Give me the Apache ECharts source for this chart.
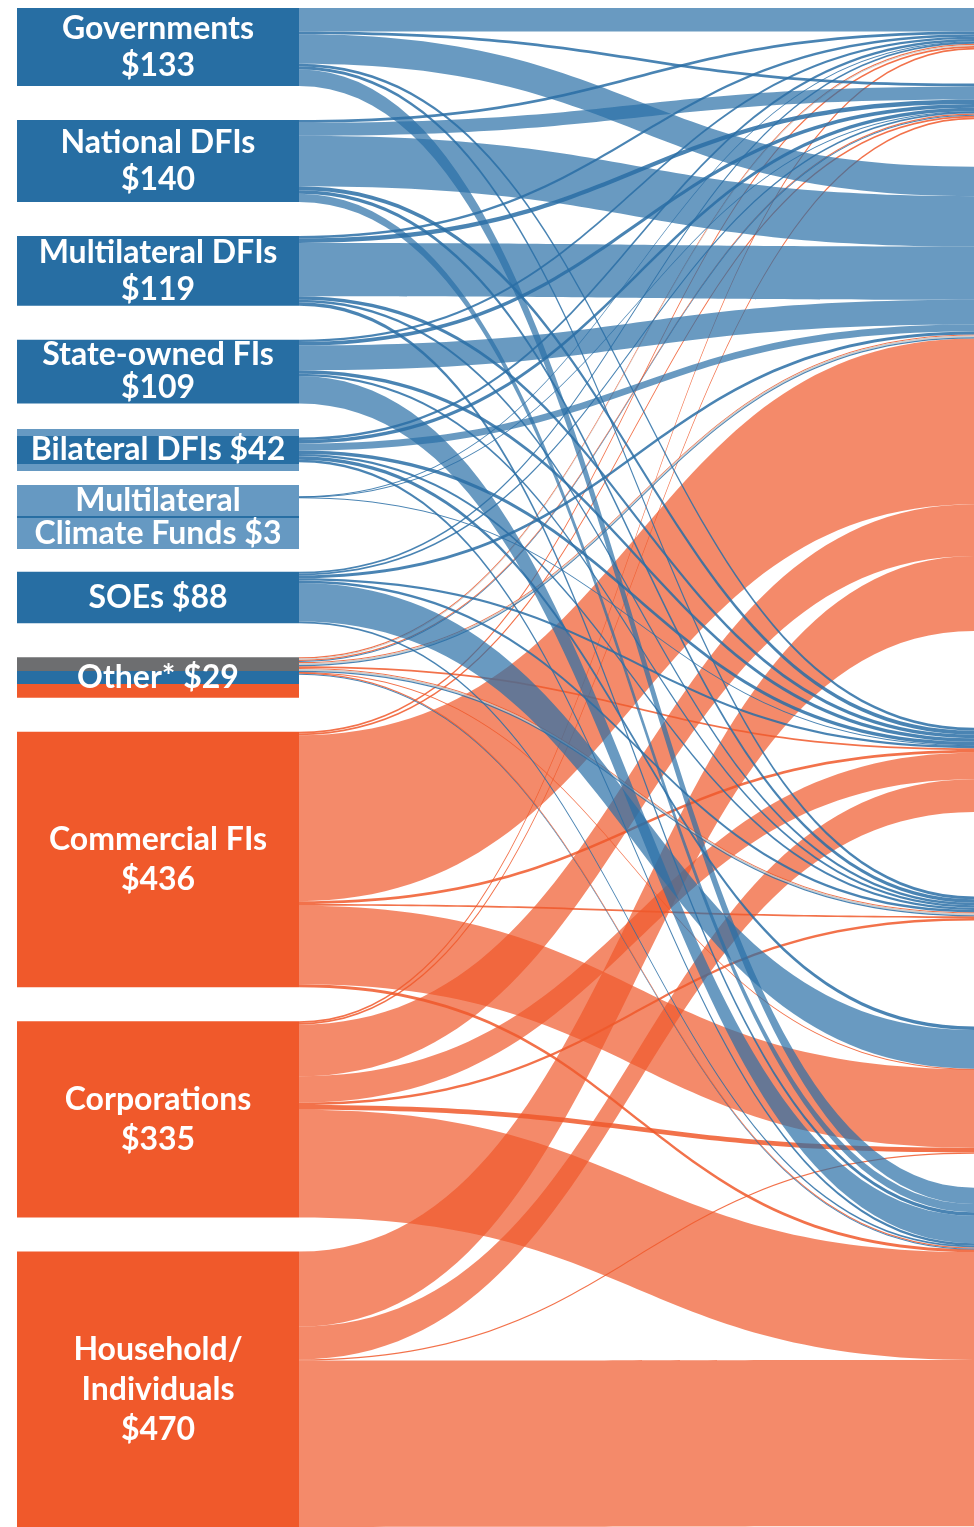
<!DOCTYPE html>
<html>
<head>
<meta charset="utf-8">
<title>Climate finance by source</title>
<script src="https://cdn.jsdelivr.net/npm/echarts@6.0.0/dist/echarts.min.js"></script>
<style>
  html, body { margin: 0; padding: 0; background: #fff; }
  #main { width: 974px; height: 1527px; }
</style>
</head>
<body>
<div id="main"></div>
<script>
// sources on the left, $bn
const sources = ['Governments', 'National DFIs', 'Multilateral DFIs', 'State-owned FIs', 'Bilateral DFIs',
  'Multilateral Climate Funds', 'SOEs', 'Other*', 'Commercial FIs', 'Corporations', 'Household/Individuals']
const sourceTotals = [133, 140, 119, 109, 42, 3, 88, 29, 436, 335, 470]
const sourceLabels = ['Governments\n$133', 'National DFIs\n$140', 'Multilateral DFIs\n$119', 'State-owned FIs\n$109',
  'Bilateral DFIs $42', 'Multilateral\nClimate Funds $3', 'SOEs $88', 'Other* $29', 'Commercial FIs\n$436',
  'Corporations\n$335', 'Household/\nIndividuals\n$470']
// the label boxes of some sources are taller than their flows
const sourceBoxValues = [133, 140, 119, 109, 42, 71, 88, 69, 436, 335, 470]

// instruments on the right (cut off by the frame)
const targets = ['Grants', 'Low-cost project debt', 'Project-level market rate debt', 'Project-level equity',
  'Unknown', 'Balance sheet debt', 'Balance sheet equity']
const targetBoxValues = [71, 84, 899, 230, 164, 217, 578]

// flows source -> instrument, same order as targets
const govFlows = [40, 5, 50, 5, 5, 0, 28]
const nationalDfiFlows = [5, 22, 86, 7, 6, 0, 14]
const multilateralDfiFlows = [4, 8, 91, 6, 4, 0, 6]
const stateFiFlows = [4, 6, 42, 6, 4, 0, 47]
const bilateralDfiFlows = [4, 6, 12, 6, 4, 6, 4]
const climateFundFlows = [1, 1, 0, 1, 0, 0, 0]
const soeFlows = [3, 3, 5, 4, 4, 66, 3]
const otherUnknownFlows = [2, 0, 3, 0, 3, 0, 0]
const otherPublicFlows = [0, 2, 2, 0, 2, 0, 1]
const otherPrivateFlows = [2, 2, 2, 3, 2, 1, 2]
const commercialFiFlows = [3, 3, 283, 5, 3, 134, 5]
const corporateFlows = [3, 3, 88, 45, 4, 8, 184]
const householdFlows = [0, 0, 128, 56, 0, 2, 284]

const BLUE = '#276ea3'
const LIGHT_BLUE = '#6699c2'
const ORANGE = '#f0592b'
const GREY = '#6d6e70'
const linkColors = { public: '#2a6fa6', private: '#f0592b', unknown: '#c4c4c4' }

// private first so the public flows are drawn on top
const flowRows = [
  ['Commercial FIs', commercialFiFlows, 'private'],
  ['Corporations', corporateFlows, 'private'],
  ['Household/Individuals', householdFlows, 'private'],
  ['Other*', otherPrivateFlows, 'private'],
  ['Other*', otherUnknownFlows, 'unknown'],
  ['Other*', otherPublicFlows, 'public'],
  ['Governments', govFlows, 'public'],
  ['National DFIs', nationalDfiFlows, 'public'],
  ['Multilateral DFIs', multilateralDfiFlows, 'public'],
  ['State-owned FIs', stateFiFlows, 'public'],
  ['Bilateral DFIs', bilateralDfiFlows, 'public'],
  ['Multilateral Climate Funds', climateFundFlows, 'public'],
  ['SOEs', soeFlows, 'public']
]

const links = []
flowRows.forEach(function (row) {
  row[1].forEach(function (v, j) {
    if (v > 0) {
      links.push({
        source: row[0],
        target: targets[j],
        value: v,
        // thin flows read darker in the original
        lineStyle: { color: linkColors[row[2]], opacity: v < 10 ? 0.85 : 0.7 }
      })
    }
  })
})

const privateSources = ['Commercial FIs', 'Corporations', 'Household/Individuals']
const textStyle = { color: '#fff', fontFamily: 'Lato', fontWeight: 700, fontSize: 32 }

const nodes = sources.map(function (name, i) {
  const isPrivate = privateSources.indexOf(name) >= 0
  const node = {
    name: name,
    value: Math.max(sourceTotals[i], sourceBoxValues[i]),
    itemStyle: { color: isPrivate ? ORANGE : BLUE },
    label: { formatter: sourceLabels[i], lineHeight: isPrivate ? 40 : 37 }
  }
  if (name === 'State-owned FIs') node.label.lineHeight = 33
  if (name === 'Bilateral DFIs') {
    node.label = {
      formatter: '{band|' + sourceLabels[i] + '}',
      backgroundColor: LIGHT_BLUE,
      padding: [7, 0, 7, 0],
      rich: {
        band: Object.assign({ backgroundColor: BLUE, width: 282, height: 28, lineHeight: 28, align: 'center' }, textStyle)
      }
    }
  }
  if (name === 'Multilateral Climate Funds') {
    node.label = {
      formatter: '{t|Multilateral}\n{ln| }\n{t|Climate Funds $3}',
      rich: {
        t: Object.assign({ backgroundColor: LIGHT_BLUE, width: 282, height: 31, lineHeight: 31, align: 'center' }, textStyle),
        ln: { backgroundColor: BLUE, width: 282, height: 2, lineHeight: 2, fontSize: 2 }
      }
    }
  }
  if (name === 'Other*') {
    node.itemStyle.color = new echarts.graphic.LinearGradient(0, 0, 0, 1, [
      { offset: 0, color: GREY }, { offset: 0.333, color: GREY },
      { offset: 0.333, color: BLUE }, { offset: 0.667, color: BLUE },
      { offset: 0.667, color: ORANGE }, { offset: 1, color: ORANGE }
    ])
  }
  return node
})

targets.forEach(function (name, j) {
  nodes.push({
    name: name,
    value: targetBoxValues[j],
    itemStyle: { opacity: 0 },
    label: { show: false }
  })
})

const myChart = echarts.init(document.getElementById('main'))
const options = {
  animation: false,
  series: [{
    type: 'sankey',
    left: 17,
    top: 8,
    bottom: 0,
    width: 1239,
    nodeWidth: 282,
    nodeGap: 34,
    nodeAlign: 'justify',
    layoutIterations: 0,
    draggable: false,
    data: nodes,
    links: links,
    label: Object.assign({ position: 'inside', align: 'center', lineHeight: 37 }, textStyle),
    itemStyle: { borderWidth: 0 },
    lineStyle: { opacity: 0.7, curveness: 0.5 },
    emphasis: { disabled: true }
  }]
}
myChart.setOption(options)
</script>
</body>
</html>
